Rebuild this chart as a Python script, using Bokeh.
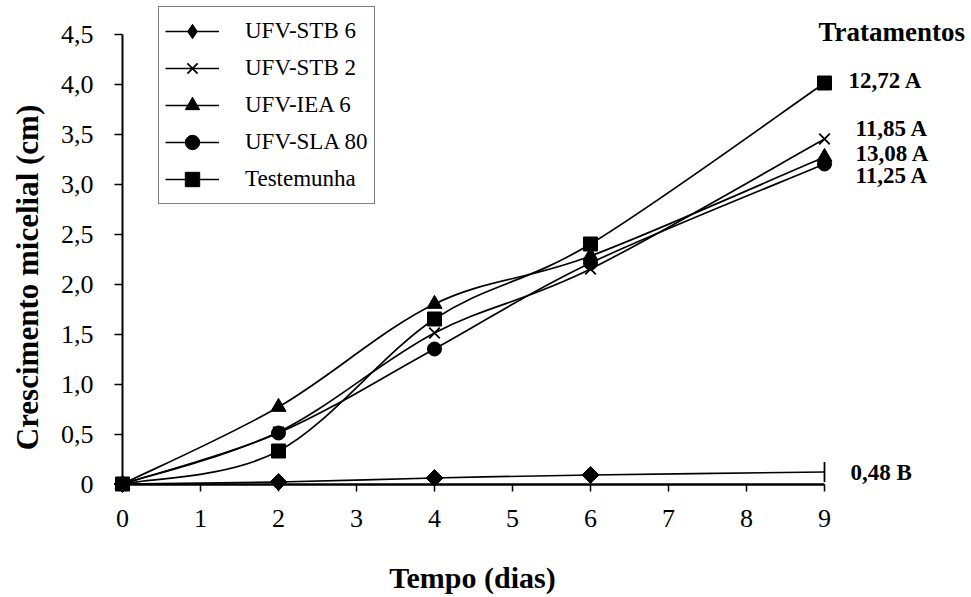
from bokeh.plotting import figure
from bokeh.models import (Range1d, FixedTicker, Legend, LegendItem, Label, ColumnDataSource)
from bokeh.embed import file_html
from bokeh.resources import INLINE
import math

# ---- data ----
days = [0, 2, 4, 6, 9]
stb6 = [0.0, 0.02, 0.06, 0.09, 0.12]
stb2 = [0.0, 0.52, 1.51, 2.15, 3.45]
iea6 = [0.0, 0.77, 1.80, 2.28, 3.27]
sla80 = [0.0, 0.51, 1.35, 2.21, 3.20]
testemunha = [0.0, 0.33, 1.65, 2.40, 4.01]
series_names = ["UFV-STB 6", "UFV-STB 2", "UFV-IEA 6", "UFV-SLA 80", "Testemunha"]
end_labels = ["0,48 B", "11,85 A", "13,08 A", "11,25 A", "12,72  A"]
x_ticks = [0, 1, 2, 3, 4, 5, 6, 7, 8, 9]
y_ticks = [0, 0.5, 1.0, 1.5, 2.0, 2.5, 3.0, 3.5, 4.0, 4.5]
y_tick_labels = ["0", "0,5", "1,0", "1,5", "2,0", "2,5", "3,0", "3,5", "4,0", "4,5"]

SERIF = "Liberation Serif"
W, H = 971, 597
X0_PX, X_PER = 122.0, 78.0     # pixel of day 0, pixels per day
Y0_PX, Y_PER = 483.5, 100.0    # pixel (from top) of y=0, pixels per unit

p = figure(width=W, height=H, output_backend="svg", toolbar_location=None,
           x_range=Range1d(-X0_PX / X_PER, (W - X0_PX) / X_PER),
           y_range=Range1d(-(H - Y0_PX) / Y_PER, Y0_PX / Y_PER),
           min_border=0, min_border_left=0, min_border_right=0,
           min_border_top=0, min_border_bottom=0)
p.grid.visible = False
p.outline_line_color = None
p.background_fill_color = "white"
p.border_fill_color = "white"

# axes (fixed at 0, so they take no side space)
xa = p.xaxis[0]
xa.fixed_location = 0
xa.bounds = (0, 9)
xa.ticker = FixedTicker(ticks=x_ticks)
xa.minor_tick_line_color = None
xa.major_tick_in = 0
xa.major_tick_out = 7
xa.axis_line_width = 2.5
xa.axis_line_color = "black"
xa.major_tick_line_width = 1.5
xa.major_tick_line_color = "black"
xa.major_label_text_font = SERIF
xa.major_label_text_font_size = "26px"
xa.major_label_text_color = "black"
xa.major_label_standoff = 19

ya = p.yaxis[0]
ya.fixed_location = 0
ya.bounds = (0, 4.5)
ya.ticker = FixedTicker(ticks=y_ticks)
ya.major_label_overrides = {t: l for t, l in zip(y_ticks, y_tick_labels)}
ya.minor_tick_line_color = None
ya.major_tick_in = 0
ya.major_tick_out = 8
ya.axis_line_width = 2
ya.axis_line_color = "black"
ya.major_tick_line_width = 1.5
ya.major_tick_line_color = "black"
ya.major_label_text_font = SERIF
ya.major_label_text_font_size = "26px"
ya.major_label_text_color = "black"
ya.major_label_standoff = 21

# axis titles
p.add_layout(Label(x=27, y=H - 277, x_units="screen", y_units="screen",
                   text="Crescimento micelial (cm)", angle=math.pi / 2,
                   text_align="center", text_baseline="middle", text_color="black",
                   text_font=SERIF, text_font_style="bold", text_font_size="31px"))
p.add_layout(Label(x=472, y=H - 577, x_units="screen", y_units="screen",
                   text="Tempo (dias)", text_align="center", text_baseline="middle",
                   text_color="black",
                   text_font=SERIF, text_font_style="bold", text_font_size="30px"))


def smooth_segments(xs, ys):
    n = len(xs)
    x0, y0, x1, y1, cx0, cy0, cx1, cy1 = [], [], [], [], [], [], [], []
    for i in range(n - 1):
        im1 = max(i - 1, 0)
        ip2 = min(i + 2, n - 1)
        x0.append(xs[i]); y0.append(ys[i])
        x1.append(xs[i + 1]); y1.append(ys[i + 1])
        cx0.append(xs[i] + (xs[i + 1] - xs[im1]) / 6.0)
        cy0.append(ys[i] + (ys[i + 1] - ys[im1]) / 6.0)
        cx1.append(xs[i + 1] - (xs[ip2] - xs[i]) / 6.0)
        cy1.append(ys[i + 1] - (ys[ip2] - ys[i]) / 6.0)
    return dict(x0=x0, y0=y0, x1=x1, y1=y1, cx0=cx0, cy0=cy0, cx1=cx1, cy1=cy1)


all_series = [stb6, stb2, iea6, sla80, testemunha]
markers = ["diamond", "x", "triangle", "circle", "square"]
sizes = [12, 15, 15, 14, 14]
items = []
for name, ys, mk, sz in zip(series_names, all_series, markers, sizes):
    br = p.bezier(source=ColumnDataSource(smooth_segments(days, ys)),
                  x0="x0", y0="y0", x1="x1", y1="y1", cx0="cx0", cy0="cy0", cx1="cx1", cy1="cy1",
                  line_color="black", line_width=1.7)
    if mk == "diamond":
        # rotated squares for the first points, vertical bar at the last point
        sr = p.scatter(days[:-1], ys[:-1], marker="square", angle=math.pi / 4, size=sz,
                       fill_color="black", line_color="black", line_width=1)
        p.scatter(days[-1:], ys[-1:], marker="dash", angle=math.pi / 2, size=20,
                  line_color="black", line_width=1.8)
        # legend-only diamond (not drawn on the plot)
        leg = p.scatter(days, ys, marker="diamond", size=sz, fill_color="black",
                        line_color="black", visible=False)
        items.append(LegendItem(label=name, renderers=[br, leg], index=0))
    else:
        sr = p.scatter(days, ys, marker=mk, size=sz, fill_color="black", line_color="black",
                       line_width=1.8 if mk == "x" else 1)
        items.append(LegendItem(label=name, renderers=[br, sr], index=0))

legend = Legend(items=items, location=(158, H - 204))
legend.border_line_color = "black"
legend.border_line_width = 1
legend.background_fill_alpha = 1
legend.inactive_fill_alpha = 0
legend.label_text_font = SERIF
legend.label_text_font_size = "23px"
legend.label_text_color = "black"
legend.glyph_width = 54
legend.glyph_height = 36
legend.label_height = 30
legend.label_standoff = 26
legend.spacing = 1
legend.padding = 6
legend.margin = 0
p.add_layout(legend)

# right-side annotations
p.add_layout(Label(x=818, y=H - 31, x_units="screen", y_units="screen", text="Tratamentos",
                   text_font=SERIF, text_font_style="bold", text_font_size="27px",
                   text_color="black", text_baseline="middle"))
end_vals = [stb6[-1], stb2[-1], iea6[-1], sla80[-1], testemunha[-1]]
label_dy = [0, 11, 4, -11, 3]
label_dx = [26, 31, 31, 31, 24]
for lab, v, dy, dx in zip(end_labels, end_vals, label_dy, label_dx):
    p.add_layout(Label(x=days[-1], y=v, x_offset=dx, y_offset=dy, text=lab,
                       text_font=SERIF, text_font_style="bold", text_font_size="23px",
                       text_color="black", text_baseline="middle"))

open("out.html", "w").write(file_html(p, INLINE))
